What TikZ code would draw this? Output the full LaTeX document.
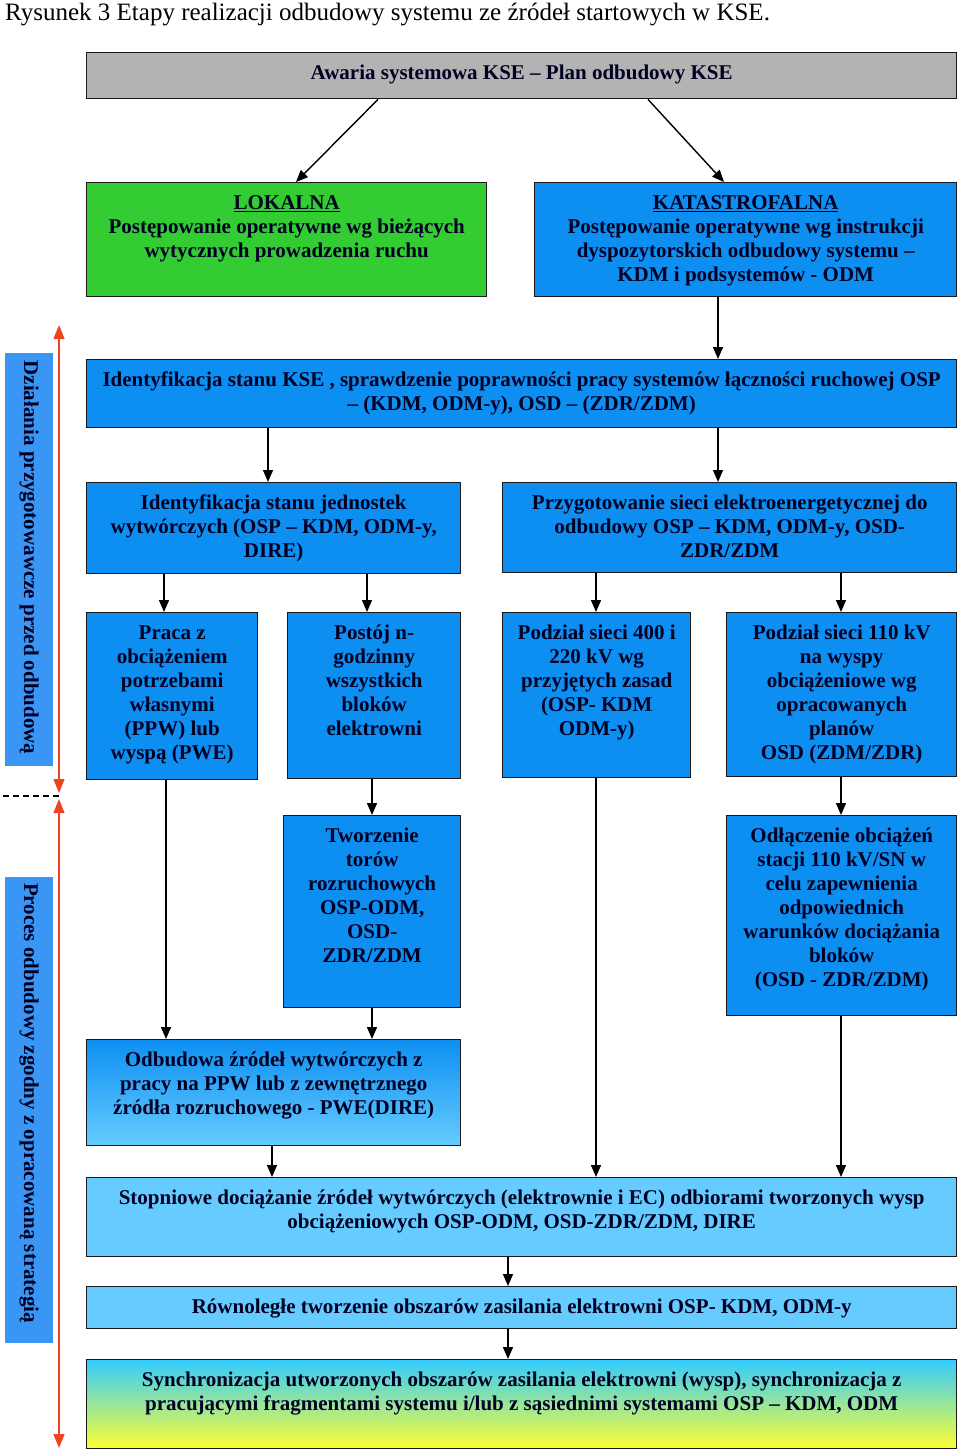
\documentclass[tikz,border=0pt]{standalone}
\usepackage{fontspec}
\setmainfont{Liberation Serif}
\usetikzlibrary{arrows.meta}

\definecolor{szary}{HTML}{B3B3B3}
\definecolor{zielony}{HTML}{33CC33}
\definecolor{niebieski}{HTML}{0D8FF2}
\definecolor{jasny}{HTML}{66CCFF}
\definecolor{pasek}{HTML}{3A96F5}
\definecolor{czerwony}{HTML}{EE4420}
\definecolor{cyjan}{HTML}{33CCFF}
\definecolor{zolty}{HTML}{FFFF33}
\definecolor{granat}{HTML}{000022}

\newcommand{\blok}[3]{\parbox[c][#2][t]{#1}{\centering\vspace*{10pt}\strut#3}}

\tikzset{
  ramka/.style={draw=black!90, line width=1.4pt, inner sep=0pt, anchor=north west,
    text=granat, font=\bfseries\fontsize{21}{24}\selectfont},
  strz/.style={-{Triangle[length=12pt,width=10pt]}, line width=1.4pt},
  faza/.style={rotate=-90, fill=pasek, inner sep=0pt, minimum height=48pt,
    text=granat, font=\bfseries\fontsize{21}{24}\selectfont}
}

\begin{document}
\begin{tikzpicture}[x=1pt,y=-1pt]
  \useasboundingbox (0,0) rectangle (960,1451);

  \node[anchor=base west, font=\fontsize{25}{28}\selectfont, inner sep=0pt] (podpis) at (5,20)
    {Rysunek 3 Etapy realizacji odbudowy systemu ze źródeł startowych w KSE.};

  \node[ramka, fill=szary] (awaria) at (86,52) {\blok{870pt}{46pt}{Awaria systemowa KSE – Plan odbudowy KSE}};
  \node[ramka, fill=zielony] (lok) at (86,182) {\blok{400pt}{114pt}{\underline{LOKALNA}\\Postępowanie operatywne wg bieżących\\wytycznych prowadzenia ruchu}};
  \node[ramka, fill=niebieski] (kat) at (534,182) {\blok{422pt}{114pt}{\underline{KATASTROFALNA}\\Postępowanie operatywne wg instrukcji\\dyspozytorskich odbudowy systemu –\\KDM i podsystemów - ODM}};
  \node[ramka, fill=niebieski] (ident) at (86,359) {\blok{870pt}{68pt}{Identyfikacja stanu KSE , sprawdzenie poprawności pracy systemów łączności ruchowej OSP\\– (KDM, ODM-y), OSD – (ZDR/ZDM)}};
  \node[ramka, fill=niebieski] (jedn) at (86,482) {\blok{374pt}{91pt}{Identyfikacja stanu jednostek\\wytwórczych (OSP – KDM, ODM-y,\\DIRE)}};
  \node[ramka, fill=niebieski] (siec) at (502,482) {\blok{454pt}{90pt}{Przygotowanie sieci elektroenergetycznej do\\odbudowy OSP – KDM, ODM-y, OSD-\\ZDR/ZDM}};
  \node[ramka, fill=niebieski] (praca) at (86,612) {\blok{171pt}{167pt}{Praca z\\obciążeniem\\potrzebami\\własnymi\\(PPW) lub\\wyspą (PWE)}};
  \node[ramka, fill=niebieski] (postoj) at (287,612) {\blok{173pt}{166pt}{Postój n-\\godzinny\\wszystkich\\bloków\\elektrowni}};
  \node[ramka, fill=niebieski] (p400) at (502,612) {\blok{188pt}{165pt}{Podział sieci 400 i\\220 kV wg\\przyjętych zasad\\(OSP- KDM\\ODM-y)}};
  \node[ramka, fill=niebieski] (p110) at (726,612) {\blok{230pt}{164pt}{Podział sieci 110 kV\\na wyspy\\obciążeniowe wg\\opracowanych\\planów\\OSD (ZDM/ZDR)}};
  \node[ramka, fill=niebieski] (tor) at (283,815) {\blok{177pt}{192pt}{Tworzenie\\torów\\rozruchowych\\OSP-ODM,\\OSD-\\ZDR/ZDM}};
  \node[ramka, fill=niebieski] (odl) at (726,815) {\blok{230pt}{200pt}{Odłączenie obciążeń\\stacji 110 kV/SN w\\celu zapewnienia\\odpowiednich\\warunków dociążania\\bloków\\(OSD - ZDR/ZDM)}};
  \node[ramka, top color=niebieski, bottom color=jasny] (odb) at (86,1039) {\blok{374pt}{106pt}{Odbudowa źródeł wytwórczych z\\pracy na PPW lub z zewnętrznego\\źródła rozruchowego - PWE(DIRE)}};
  \node[ramka, fill=jasny] (stop) at (86,1177) {\blok{870pt}{79pt}{Stopniowe dociążanie źródeł wytwórczych (elektrownie i EC) odbiorami tworzonych wysp\\obciążeniowych OSP-ODM, OSD-ZDR/ZDM, DIRE}};
  \node[ramka, fill=jasny] (rown) at (86,1286) {\blok{870pt}{42pt}{Równoległe tworzenie obszarów zasilania elektrowni OSP- KDM, ODM-y}};
  \node[ramka, top color=cyjan, bottom color=zolty] (sync) at (86,1359) {\blok{870pt}{89pt}{Synchronizacja utworzonych obszarów zasilania elektrowni (wysp), synchronizacja z\\pracującymi fragmentami systemu i/lub z sąsiednimi systemami OSP – KDM, ODM}};

  \draw[strz] (awaria.south -| 378,0) -- (lok.north -| 296,0);
  \draw[strz] (awaria.south -| 648,0) -- (kat.north -| 724,0);
  \draw[strz] (kat.south -| 718,0) -- (ident.north -| 718,0);
  \draw[strz] (ident.south -| 268,0) -- (jedn.north -| 268,0);
  \draw[strz] (ident.south -| 718,0) -- (siec.north -| 718,0);
  \draw[strz] (jedn.south -| 164,0) -- (praca.north -| 164,0);
  \draw[strz] (jedn.south -| 367,0) -- (postoj.north -| 367,0);
  \draw[strz] (siec.south -| 596,0) -- (p400.north -| 596,0);
  \draw[strz] (siec.south -| 841,0) -- (p110.north -| 841,0);
  \draw[strz] (postoj.south -| 372,0) -- (tor.north -| 372,0);
  \draw[strz] (p110.south -| 841,0) -- (odl.north -| 841,0);
  \draw[strz] (praca.south -| 166,0) -- (odb.north -| 166,0);
  \draw[strz] (tor.south -| 372,0) -- (odb.north -| 372,0);
  \draw[strz] (odb.south -| 272,0) -- (stop.north -| 272,0);
  \draw[strz] (p400.south -| 596,0) -- (stop.north -| 596,0);
  \draw[strz] (odl.south -| 841,0) -- (stop.north -| 841,0);
  \draw[strz] (stop.south -| 508,0) -- (rown.north -| 508,0);
  \draw[strz] (rown.south -| 508,0) -- (sync.north -| 508,0);

  % fazy po lewej stronie
  \node[faza, minimum width=413pt] (faza1) at (29,559.5) {\hspace*{-4pt}Działania przygotowawcze przed odbudową};
  \node[faza, minimum width=466pt] (faza2) at (29,1110) {\hspace*{-14pt}Proces odbudowy zgodny z opracowaną strategią};

  \coordinate (g1) at (59,325);
  \coordinate (d1) at (59,793);
  \coordinate (g2) at (59,799);
  \coordinate (d2) at (59,1448);
  \coordinate (kl) at (3,796);
  \coordinate (kp) at (59,796);
  \draw[czerwony, line width=1.4pt, {Triangle[length=14pt,width=11pt]}-{Triangle[length=14pt,width=11pt]}] (g1) -- (d1);
  \draw[czerwony, line width=1.4pt, {Triangle[length=14pt,width=11pt]}-{Triangle[length=14pt,width=11pt]}] (g2) -- (d2);
  \draw[dashed, line width=1.2pt, dash pattern=on 6pt off 4pt] (kl) -- (kp);
\end{tikzpicture}
\end{document}
